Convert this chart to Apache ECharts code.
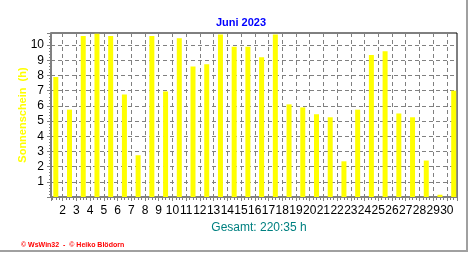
<!DOCTYPE html>
<html>
<head>
<meta charset="utf-8">
<script src="https://cdn.jsdelivr.net/npm/echarts@6/dist/echarts.min.js"></script>
<style>
html,body{margin:0;padding:0;background:#fff;}
#c{width:472px;height:255px;}
</style>
</head>
<body>
<div id="c"></div>
<script>
const titleText = "Juni 2023";
const yAxisName = "Sonnenschein  (h)";
const totalText = "Gesamt: 220:35 h";
const footerText = "\u00a9 WsWin32  -  \u00a9 Heiko Bl\u00f6dorn";
const days = [1,2,3,4,5,6,7,8,9,10,11,12,13,14,15,16,17,18,19,20,21,22,23,24,25,26,27,28,29,30];
const sunshine = [7.9,5.75,10.6,10.75,10.6,6.75,2.75,10.6,6.95,10.45,8.6,8.75,10.7,9.9,9.9,9.2,10.7,6.1,5.9,5.45,5.25,2.35,5.75,9.35,9.6,5.5,5.25,2.4,0.15,7.0];
const xRange = [1.15, 30.74];
const yRange = [0, 10.8];

const chart = echarts.init(document.getElementById('c'), null, {renderer:'canvas'});
const barData = days.map((d,i)=>[d+0.5, sunshine[i]]);
chart.setOption({
  animation:false,
  backgroundColor:'#ffffff',
  title:[
    {text:titleText, left:236, top:12, textAlign:'center',
     textStyle:{color:'#0000ff', fontSize:11, fontWeight:'bold', fontFamily:'Liberation Sans'}},
    {text:totalText, left:254, top:217, textAlign:'center',
     textStyle:{color:'#008080', fontSize:12, fontWeight:'normal', fontFamily:'Liberation Sans'}},
    {text:footerText, left:16, top:237,
     textStyle:{color:'#ff0000', fontSize:7, fontWeight:'bold', fontFamily:'Liberation Sans'}}
  ],
  grid:{left:51, right:15, top:33, bottom:58, show:true, borderColor:'#000', borderWidth:1, backgroundColor:'transparent'},
  xAxis:{
    type:'value', min:xRange[0], max:xRange[1], splitNumber:30, minInterval:1, maxInterval:1,
    axisLine:{show:true, lineStyle:{color:'#808080', width:2}},
    axisTick:{show:true, length:4, lineStyle:{color:'#808080'}},
    minorTick:{show:true, splitNumber:4, length:3, lineStyle:{color:'#808080'}},
    axisLabel:{color:'#000', fontSize:12, fontFamily:'Liberation Sans', margin:8, showMinLabel:false, showMaxLabel:false,
      formatter:v=>String(Math.round(v))},
    splitLine:{show:true, showMinLine:false, showMaxLine:false, lineStyle:{color:'#808080', type:[4,3], width:1}}
  },
  yAxis:{
    type:'value', min:yRange[0], max:yRange[1], interval:1,
    name:yAxisName, nameLocation:'middle', nameGap:23, nameRotate:90, nameMoveOverlap:false,
    nameTextStyle:{color:'#ffff00', fontSize:11, fontWeight:'bold', fontFamily:'Liberation Sans'},
    axisLine:{show:true, lineStyle:{color:'#808080', width:2}},
    axisTick:{show:true, length:4, lineStyle:{color:'#808080'}},
    minorTick:{show:true, splitNumber:5, length:2, lineStyle:{color:'#808080'}},
    axisLabel:{color:'#000', fontSize:12, fontFamily:'Liberation Sans', margin:7, showMinLabel:false, showMaxLabel:false},
    splitLine:{show:true, showMinLine:false, showMaxLine:false, lineStyle:{color:'#808080', type:[4,3], width:1}}
  },
  series:[{
    type:'bar', data:barData, barWidth:5, itemStyle:{color:'#ffff00'}, z:3
  }],
  graphic:[
    {type:'line', shape:{x1:0, y1:251, x2:468, y2:251}, style:{stroke:'#a0a0a0', lineWidth:2}, silent:true},
    {type:'line', shape:{x1:467, y1:0, x2:467, y2:252}, style:{stroke:'#a0a0a0', lineWidth:2}, silent:true}
  ]
});
</script>
</body>
</html>
